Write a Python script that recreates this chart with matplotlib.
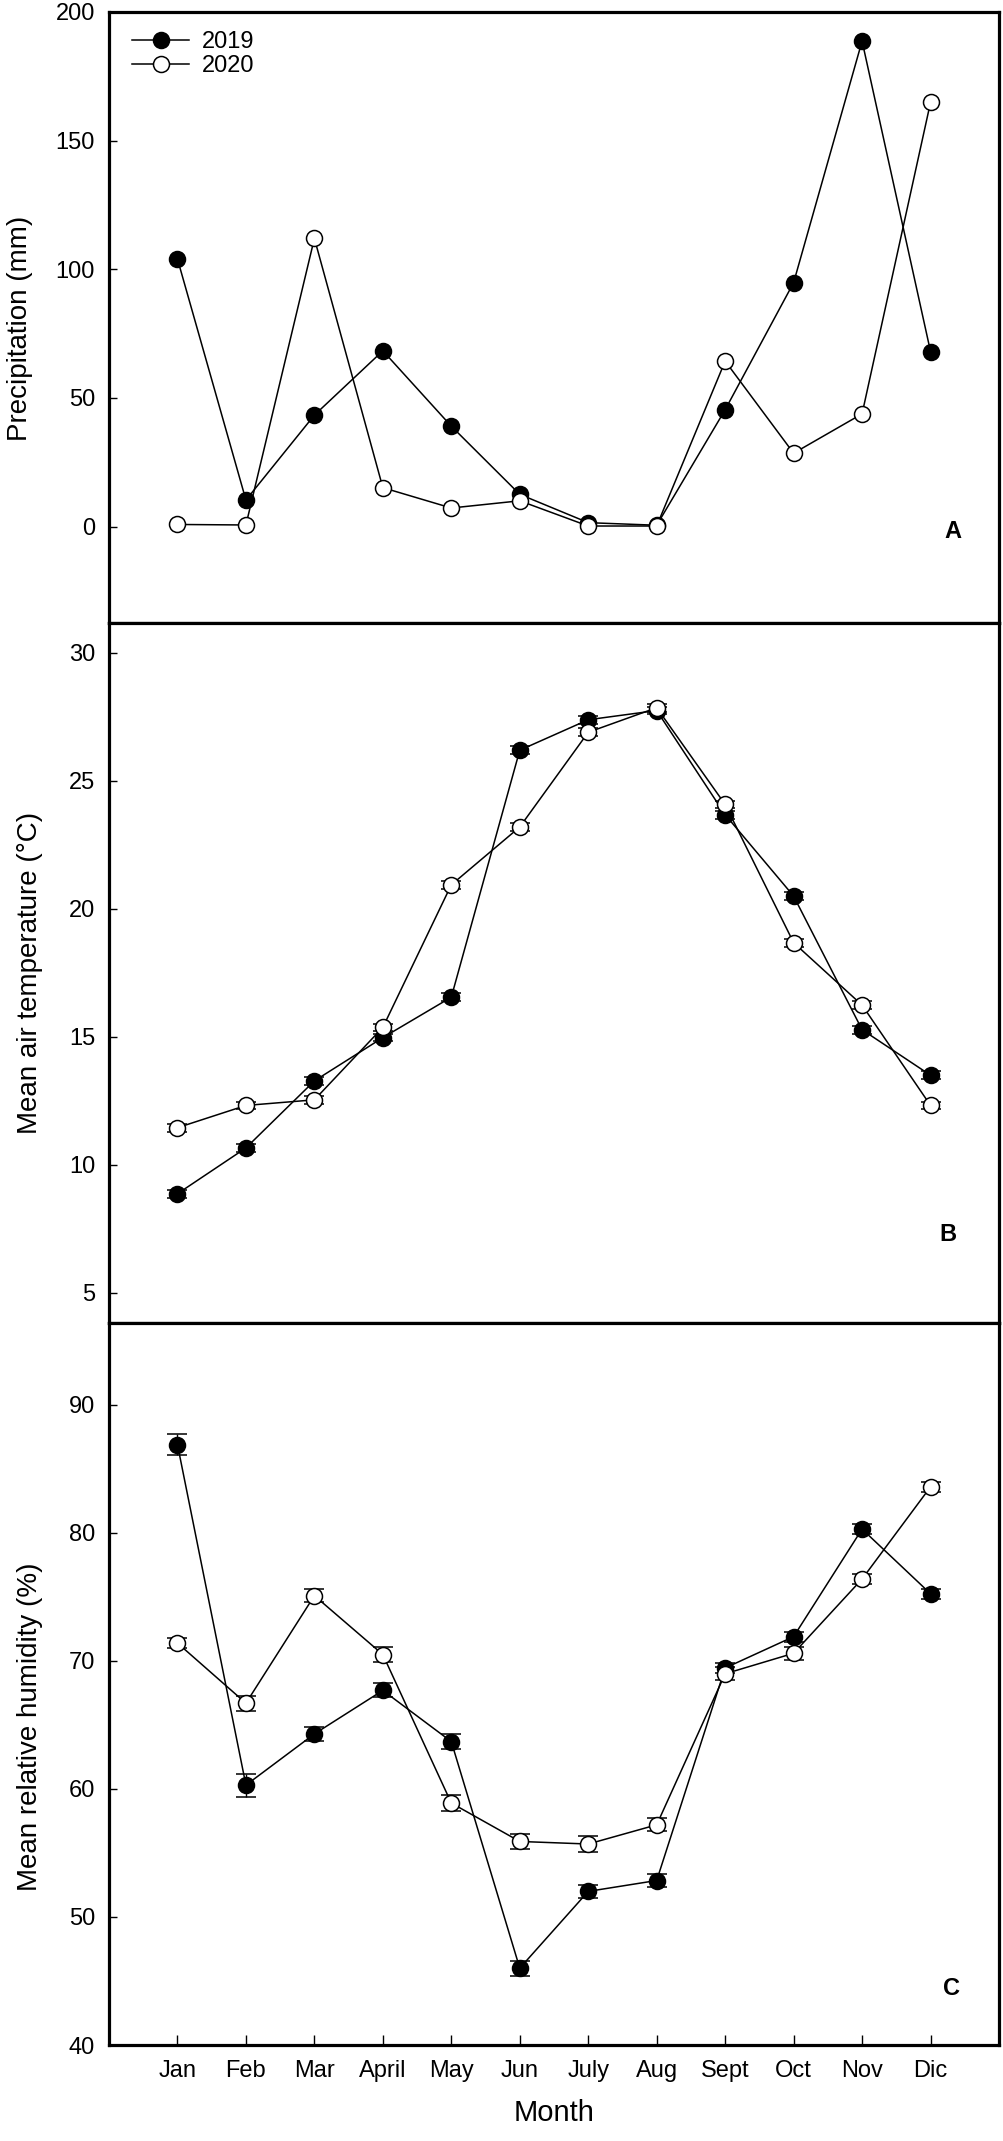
import numpy as np
import matplotlib.pyplot as plt

plt.rcParams["font.family"] = ["Liberation Sans", "DejaVu Sans"]

months = ["Jan", "Feb", "Mar", "April", "May", "Jun",
          "July", "Aug", "Sept", "Oct", "Nov", "Dic"]

# precipitation (mm)
precip_2019 = [104, 10.3, 43.3, 68.3, 39, 12.5, 1.5, 0.5, 45.4, 94.8, 188.7, 68]
precip_2020 = [0.8, 0.6, 112, 15.1, 7.2, 10, 0.2, 0.2, 64.3, 28.5, 43.8, 164.9]

# mean air temperature (°C)
temp_2019 = [8.87, 10.66, 13.28, 14.97, 16.55, 26.2, 27.39, 27.75, 23.68, 20.5, 15.28, 13.5]
temp_2020 = [11.45, 12.32, 12.54, 15.37, 20.94, 23.2, 26.9, 27.86, 24.08, 18.68, 16.24, 12.32]
temp_err_2019 = [0.15] * 12
temp_err_2020 = [0.15] * 12

# mean relative humidity (%)
rh_2019 = [86.9, 60.3, 64.3, 67.7, 63.7, 46.0, 52.0, 52.85, 69.45, 71.9, 80.3, 75.25]
rh_2020 = [71.4, 66.7, 75.1, 70.5, 58.9, 55.9, 55.7, 57.2, 69.0, 70.6, 76.4, 83.6]
rh_err_2019 = [0.8, 0.9, 0.55, 0.55, 0.6, 0.6, 0.5, 0.5, 0.4, 0.4, 0.4, 0.4]
rh_err_2020 = [0.4, 0.6, 0.5, 0.6, 0.6, 0.6, 0.6, 0.5, 0.5, 0.5, 0.4, 0.4]


def draw(ax, y19, y20, e19=None, e20=None):
    x = np.arange(1, 13)
    style = dict(color="black", lw=1.1, marker="o", ms=11.5, mec="black",
                 mew=1.1, capsize=7, elinewidth=1.0, capthick=1.0)
    ax.errorbar(x, y19, yerr=e19, mfc="black", label="2019", zorder=3, **style)
    ax.errorbar(x, y20, yerr=e20, mfc="white", label="2020", zorder=4, **style)
    ax.set_xlim(0, 13)
    for s in ax.spines.values():
        s.set_linewidth(2.3)
    ax.tick_params(direction="in", width=1.0, labelsize=17)
    ax.tick_params(axis="y", length=6, pad=10)
    ax.tick_params(axis="x", length=7, pad=11)


fig = plt.figure(figsize=(10.04, 21.41), dpi=100)
W, H = 1004, 2141
left, right = 109 / W, 999 / W
bounds = [(12, 623), (623, 1323), (1323, 2045)]
axes = []
for top, bot in bounds:
    axes.append(fig.add_axes([left, 1 - bot / H, right - left, (bot - top) / H]))
ax1, ax2, ax3 = axes

draw(ax1, precip_2019, precip_2020)
ax1.set_ylim(-37.5, 200)
ax1.set_yticks([0, 50, 100, 150, 200])
ax1.set_xticks([])
ax1.set_ylabel("Precipitation (mm)", fontsize=20)
ax1.yaxis.set_label_coords(-0.085, 0.483)
ax1.legend(loc="upper left", frameon=False, fontsize=17, handlelength=2.4,
           handletextpad=0.55, labelspacing=0.1, borderaxespad=0.4,
           bbox_to_anchor=(0.005, 1.0))
ax1.text(0.948, 0.15, "A", transform=ax1.transAxes, fontsize=17,
         fontweight="bold", ha="center", va="center")

draw(ax2, temp_2019, temp_2020, temp_err_2019, temp_err_2020)
ax2.set_ylim(3.82, 31.17)
ax2.set_yticks([5, 10, 15, 20, 25, 30])
ax2.set_xticks([])
ax2.set_ylabel("Mean air temperature (°C)", fontsize=20)
ax2.yaxis.set_label_coords(-0.074, 0.50)
ax2.text(0.943, 0.126, "B", transform=ax2.transAxes, fontsize=17,
         fontweight="bold", ha="center", va="center")

draw(ax3, rh_2019, rh_2020, rh_err_2019, rh_err_2020)
ax3.set_ylim(40, 96.4)
ax3.set_yticks([40, 50, 60, 70, 80, 90])
ax3.set_xticks(np.arange(1, 13))
ax3.set_xticklabels(months)
ax3.set_ylabel("Mean relative humidity (%)", fontsize=20)
ax3.yaxis.set_label_coords(-0.074, 0.441)
ax3.set_xlabel("Month", fontsize=21, labelpad=12)
ax3.text(0.947, 0.078, "C", transform=ax3.transAxes, fontsize=17,
         fontweight="bold", ha="center", va="center")

fig.savefig("out.png", dpi=100)
